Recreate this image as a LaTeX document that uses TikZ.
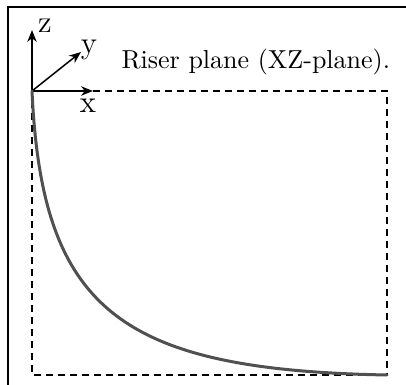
\documentclass[tikz,border=0pt]{standalone}
\usepackage{tikz}
\usetikzlibrary{arrows.meta,positioning}
\definecolor{RsrLine}{HTML}{505050}
\definecolor{Slate}{HTML}{000000}
\tikzset{
  every picture/.append style={font=\fontsize{10.4}{12}\selectfont, >=Stealth},
  frm/.style={draw=Slate, line width=1.1pt},
  axs/.style={-{Stealth[length=4.8pt,width=3.8pt]}, line width=0.6pt, draw=Slate},
  dsh/.style={draw=Slate, line width=0.55pt, dash pattern=on 2.8pt off 2pt},
  rsr/.style={draw=RsrLine, line width=1.2pt, line cap=round},
  lbl/.style={inner sep=0pt, anchor=base, font=\fontsize{12.5}{14}\selectfont},
  ttl/.style={inner sep=0pt, anchor=base west},
}
\begin{document}
\begin{tikzpicture}[x=0.4pt,y=-0.4pt]
\useasboundingbox (0,0) rectangle (406,385);

% ---------------- frame ------------------------------------------------------------
\draw[frm] (8,400) -- (8,7) -- (420,7);

% ---------------- axes -------------------------------------------------------------
\coordinate (o) at (32,91);
\coordinate (zt) at (32,30);
\coordinate (yt) at (81,52);
\coordinate (xt) at (93,91);
\draw[axs] (o) -- (zt);
\draw[axs] (o) -- (yt);
\draw[axs] (o) -- (xt);
\node[lbl] (zl) at (45,33) {z};
\node[lbl] (yl) at (89,54) {y};
\node[lbl] (xl) at (88,113) {x};

\node[ttl] (title) at (121,69) {Riser plane (XZ-plane).};

% ---------------- plane box --------------------------------------------------------
\coordinate (br) at (387,375);
\draw[dsh] (xt) -- (387,91) -- (br) -- (32,375) -- (o);

% ---------------- riser ------------------------------------------------------------
\draw[rsr] (o) .. controls (42,310) and (120,370) .. (br);

\end{tikzpicture}
\end{document}
